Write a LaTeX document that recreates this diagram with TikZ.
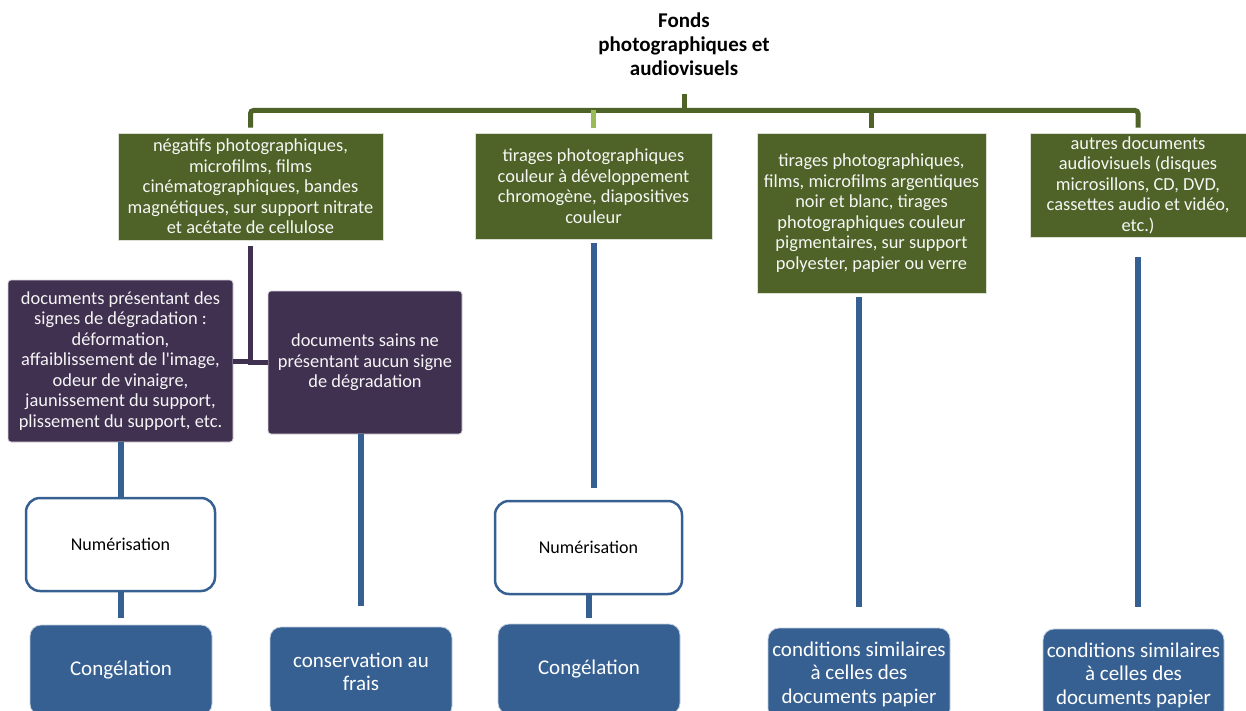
\documentclass[tikz,border=0pt]{standalone}
\usepackage{fontspec}
\setmainfont{Carlito}[Ligatures=TeXOff]
\usetikzlibrary{calc}
\definecolor{gr}{HTML}{4F6228}
\definecolor{lg}{HTML}{9BBB59}
\definecolor{pu}{HTML}{403151}
\definecolor{bl}{HTML}{376092}
\begin{document}
\begin{tikzpicture}[x=1pt,y=1pt,
  gbox/.style={fill=gr, draw=white!80!gr, line width=0.8pt, text=white!95!gr, align=center, inner sep=0pt, font=\fontsize{18.4}{20.5}\selectfont},
  pbox/.style={fill=pu, draw=white!80!pu, line width=0.8pt, rounded corners=3pt, text=white!95!pu, align=center, inner sep=0pt, font=\fontsize{18.4}{20.5}\selectfont},
  nbox/.style={fill=white, draw=bl, line width=2.5pt, rounded corners=14pt, align=center, inner sep=0pt, font=\fontsize{18}{20}\selectfont},
  cbox/.style={fill=bl, draw=white!70!bl, line width=0.8pt, rounded corners=11pt, text=white, align=center, inner sep=0pt, font=\fontsize{21}{23.4}\selectfont},
  gline/.style={draw=gr, line width=5pt},
  lgline/.style={draw=lg, line width=5pt},
  pline/.style={draw=pu, line width=5pt},
  bline/.style={draw=bl, line width=6pt}
]
\useasboundingbox (0,0) rectangle (1246,-711);
\fill[white] (0,0) rectangle (1246,-711);

% title
\node[font=\bfseries\fontsize{21}{24}\selectfont, align=center, inner sep=0pt] (title) at (684,-44) {Fonds\\photographiques et\\audiovisuels};
\coordinate (tb) at (684,-94);
\coordinate (bary) at (0,-110.5);

% green boxes
\node[gbox, minimum width=265pt, minimum height=107pt] (g1) at (250.5,-186.5)
  {négatifs photographiques,\\microfilms, films\\cinématographiques, bandes\\magnétiques, sur support nitrate\\et acétate de cellulose};
\node[gbox, minimum width=237pt, minimum height=106pt] (g2) at (593.5,-186)
  {tirages photographiques\\couleur à développement\\chromogène, diapositives\\couleur};
\node[gbox, minimum width=229pt, minimum height=160pt] (g3) at (871.5,-213)
  {tirages photographiques,\\films, microfilms argentiques\\noir et blanc, tirages\\photographiques couleur\\pigmentaires, sur support\\polyester, papier ou verre};
\node[gbox, minimum width=216pt, minimum height=104pt] (g4) at (1138,-185)
  {autres documents\\audiovisuels (disques\\microsillons, CD, DVD,\\cassettes audio et vidéo,\\etc.)};

% purple boxes
\node[pbox, minimum width=225pt, minimum height=162pt] (p1) at (120.5,-361)
  {documents présentant des\\signes de dégradation :\\déformation,\\affaiblissement de l'image,\\odeur de vinaigre,\\jaunissement du support,\\plissement du support, etc.};
\node[pbox, minimum width=194pt, minimum height=143pt] (p2) at (365,-362.5)
  {documents sains ne\\présentant aucun signe\\de dégradation};

% numerisation boxes
\node[nbox, minimum width=189pt, minimum height=93pt] (n1) at (120.5,-544.5) {Numérisation};
\node[nbox, minimum width=187pt, minimum height=93pt] (n2) at (588.5,-547.5) {Numérisation};

% bottom boxes
\node[cbox, minimum width=182pt, minimum height=90pt] (c1) at (121,-670) {Congélation};
\node[cbox, minimum width=182pt, minimum height=90pt] (cons) at (361,-672) {conservation au\\frais};
\node[cbox, minimum width=182pt, minimum height=90pt] (c2) at (589,-669) {Congélation};
\node[cbox, minimum width=182pt, minimum height=92pt] (cd1) at (859,-674) {conditions similaires\\à celles des\\documents papier};
\node[cbox, minimum width=181pt, minimum height=92pt] (cd2) at (1133.5,-675) {conditions similaires\\à celles des\\documents papier};

% green tree
\draw[gline, rounded corners=3pt] ([yshift=5pt]g1.north) |- (bary -| g4.north) -- ([yshift=5pt]g4.north);
\draw[gline] (tb) -- (tb |- bary);
\draw[lgline] ([yshift=5pt]g2.north) -- (g2.north |- bary);
\draw[gline] ([yshift=5pt]g3.north) -- (g3.north |- bary);

% purple connectors
\draw[pline] ([yshift=-6pt]g1.south) |- (p1.east);
\draw[pline] ([yshift=-6pt]g1.south) |- (p2.west);

% blue connectors
\coordinate (n2top) at ([yshift=12pt]n2.north);
\coordinate (cd2top) at ([yshift=22pt]cd2.north);
\draw[bline] (p1.south) -- (n1.north);
\draw[bline] (n1.south) -- ([yshift=7pt]c1.north -| n1.south);
\draw[bline] (p2.south -| cons.north) -- ([yshift=21pt]cons.north);
\draw[bline] ([yshift=-4pt]g2.south) -- (g2.south |- n2top);
\draw[bline] (n2.south) -- ([yshift=6pt]c2.north -| n2.south);
\draw[bline] ([yshift=-4pt]g3.south -| cd1.north) -- ([yshift=21pt]cd1.north);
\draw[bline] ([yshift=-20pt]g4.south) -- (g4.south |- cd2top);
\end{tikzpicture}
\end{document}
